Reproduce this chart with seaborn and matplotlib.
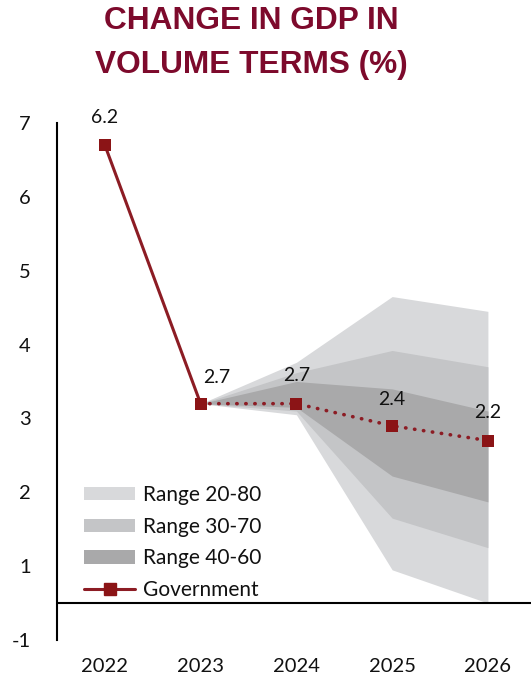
import matplotlib
matplotlib.use("Agg")
import matplotlib.pyplot as plt
import seaborn as sns
import pandas as pd
from matplotlib.patches import Patch
from matplotlib.lines import Line2D

# Data
years = ["2022", "2023", "2024", "2025", "2026"]
government = [6.2, 2.7, 2.7, 2.4, 2.2]

# Forecast ranges (from 2023 onwards)
range_years = ["2023", "2024", "2025", "2026"]
range_20_80_low = [2.7, 2.55, 0.45, 0.0]
range_20_80_high = [2.7, 3.26, 4.15, 3.95]
range_30_70_low = [2.7, 2.60, 1.15, 0.75]
range_30_70_high = [2.7, 3.12, 3.42, 3.20]
range_40_60_low = [2.7, 2.65, 1.72, 1.37]
range_40_60_high = [2.7, 3.00, 2.90, 2.60]

ytick_labels = ["7", "6", "5", "4", "3", "2", "1", "-1"]

sns.set_theme(style="white")
plt.rcParams["font.family"] = ["Lato", "DejaVu Sans"]

RED = "#8c1c24"
MARK = "#8b1416"
C1 = "#d8d9db"
C2 = "#c4c5c7"
C3 = "#a9a9aa"

fig = plt.figure(figsize=(5.31, 6.84), dpi=100)
ax = fig.add_axes([57 / 531, 1 - 640 / 684, 1 - 57 / 531, (640 - 123) / 684])

xpos = {y: i for i, y in enumerate(years)}
rx = [xpos[y] for y in range_years]

ax.fill_between(rx, range_20_80_low, range_20_80_high, color=C1, lw=0, zorder=1)
ax.fill_between(rx, range_30_70_low, range_30_70_high, color=C2, lw=0, zorder=2)
ax.fill_between(rx, range_40_60_low, range_40_60_high, color=C3, lw=0, zorder=3)

df = pd.DataFrame({"x": [xpos[y] for y in years], "gdp": government})
solid = df.iloc[:2]
dotted = df.iloc[1:]
sns.lineplot(data=solid, x="x", y="gdp", ax=ax, color=RED, lw=2.2, zorder=5)
sns.lineplot(data=dotted, x="x", y="gdp", ax=ax, color=RED, lw=2.6,
             linestyle=(0, (0.1, 2.4)), dash_capstyle="round", zorder=5)
sns.scatterplot(data=df, x="x", y="gdp", ax=ax, marker="s", s=75,
                color=MARK, edgecolor=MARK, linewidth=0, zorder=6)

# Value labels
offsets = [(0, 20), (11.5, 18.5), (0, 20.5), (0, 19), (0, 20)]
for x, v, off in zip(df["x"], government, offsets):
    ax.annotate(f"{v:.1f}", (x, v), xytext=off, textcoords="offset points",
                ha="center", va="center", fontsize=14, color="#111111", zorder=7)

ax.axhline(0, color="black", lw=1.5, zorder=4)

ax.set_xlim(-0.5, 4.45)
ax.set_ylim(-0.5, 6.5)
ax.set_xticks(range(len(years)))
ax.set_xticklabels(years)
ax.set_yticks([6.5, 5.5, 4.5, 3.5, 2.5, 1.5, 0.5, -0.5])
ax.set_yticklabels(ytick_labels)
ax.tick_params(axis="x", length=0, pad=13, labelsize=14.5, colors="#111111")
ax.tick_params(axis="y", length=0, pad=19, labelsize=14.5, colors="#111111")
ax.set_xlabel("")
ax.set_ylabel("")

for s in ["top", "right", "bottom"]:
    ax.spines[s].set_visible(False)
ax.spines["left"].set_color("black")
ax.spines["left"].set_linewidth(1.5)

handles = [
    Patch(facecolor=C1, edgecolor="none", label="Range 20-80"),
    Patch(facecolor=C2, edgecolor="none", label="Range 30-70"),
    Patch(facecolor=C3, edgecolor="none", label="Range 40-60"),
    Line2D([0], [0], color=RED, lw=2.2, marker="s", markersize=8,
           markerfacecolor=MARK, markeredgecolor=MARK, label="Government"),
]
ax.legend(handles=handles, loc="upper left", bbox_to_anchor=(0.057, 0.300),
          frameon=False, fontsize=15, borderpad=0, borderaxespad=0,
          handlelength=2.45, handleheight=0.6, handletextpad=0.4,
          labelspacing=0.56, labelcolor="#111111")

fig.text(251 / 531, 1 - 21 / 684, "CHANGE IN GDP IN", ha="center", va="center",
         fontsize=22.8, fontweight="bold", color="#7d0a2c",
         family=["Liberation Sans", "DejaVu Sans"])
fig.text(251 / 531, 1 - 65 / 684, "VOLUME TERMS (%)", ha="center", va="center",
         fontsize=22.8, fontweight="bold", color="#7d0a2c",
         family=["Liberation Sans", "DejaVu Sans"])

fig.savefig("out.png", dpi=100)
